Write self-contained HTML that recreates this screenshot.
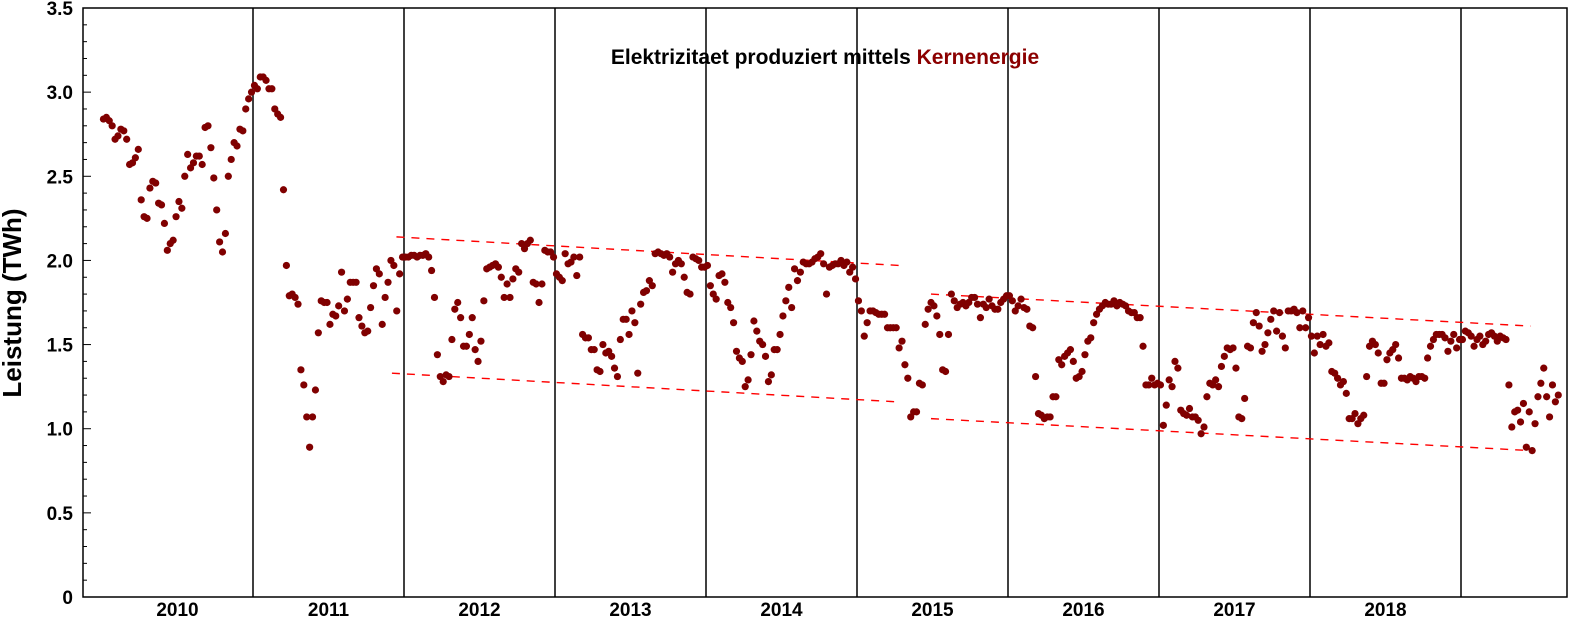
<!DOCTYPE html>
<html><head><meta charset="utf-8"><style>
body{margin:0;background:#fff;}
svg{display:block;font-family:"Liberation Sans",sans-serif;}
</style></head><body>
<svg id="chart" width="1574" height="622" viewBox="0 0 1574 622" xmlns="http://www.w3.org/2000/svg">
<rect x="0" y="0" width="1574" height="622" fill="#fff"/>
<g id="grid"></g><g id="trend"></g><g id="dots"></g><g id="axes"></g>
<text x="825" y="64" text-anchor="middle" font-size="21" font-weight="bold" fill="#000">Elektrizitaet produziert mittels <tspan fill="#8b0000">Kernenergie</tspan></text>
<text transform="translate(21,303) rotate(-90)" text-anchor="middle" font-size="26" font-weight="bold">Leistung (TWh)</text>
</svg>
<script>
const years=[2010,2011,2012,2013,2014,2015,2016,2017,2018,2019];
const yTicks=[0,0.5,1.0,1.5,2.0,2.5,3.0,3.5];
const yTickLabels=["0","0.5","1.0","1.5","2.0","2.5","3.0","3.5"];
const v2010=[2.84,2.85,2.83,2.80,2.72,2.74,2.78,2.77,2.72,2.57,2.58,2.61,2.66,2.36,2.26,2.25,2.43,2.47,2.46,2.34,2.33,2.22,2.06,2.10,2.12,2.26,2.35,2.31,2.50,2.63,2.55,2.58,2.62,2.62,2.57,2.79,2.80,2.67,2.49,2.30,2.11,2.05,2.16,2.50,2.60,2.70,2.68,2.78,2.77,2.90,2.96,3.00];
const v2011=[3.04,3.02,3.09,3.09,3.07,3.02,3.02,2.90,2.87,2.85,2.42,1.97,1.79,1.80,1.78,1.74,1.35,1.26,1.07,0.89,1.07,1.23,1.57,1.76,1.75,1.75,1.62,1.68,1.67,1.73,1.93,1.70,1.77,1.87,1.87,1.87,1.66,1.61,1.57,1.58,1.72,1.85,1.95,1.92,1.62,1.78,1.87,2.00,1.97,1.70,1.92,2.02];
const v2012=[2.02,2.02,2.03,2.03,2.02,2.03,2.03,2.04,2.02,1.94,1.78,1.44,1.31,1.28,1.32,1.31,1.53,1.71,1.75,1.66,1.49,1.49,1.56,1.66,1.47,1.40,1.52,1.76,1.95,1.96,1.97,1.98,1.96,1.90,1.78,1.86,1.78,1.89,1.95,1.93,2.10,2.07,2.10,2.12,1.87,1.86,1.75,1.86,2.06,2.05,2.05,2.02];
const v2013=[1.92,1.90,1.88,2.04,1.98,1.99,2.02,1.91,2.02,1.56,1.54,1.54,1.47,1.47,1.35,1.34,1.50,1.45,1.46,1.43,1.36,1.31,1.53,1.65,1.65,1.56,1.70,1.63,1.33,1.74,1.81,1.82,1.88,1.85,2.04,2.05,2.04,2.03,2.04,2.02,1.93,1.98,2.00,1.98,1.90,1.81,1.80,2.02,2.01,2.00,1.96,1.96];
const v2014=[1.97,1.85,1.80,1.77,1.91,1.92,1.87,1.75,1.72,1.63,1.46,1.42,1.40,1.25,1.29,1.44,1.64,1.58,1.52,1.50,1.43,1.28,1.32,1.47,1.47,1.56,1.67,1.76,1.84,1.72,1.95,1.88,1.93,1.99,1.98,1.98,1.99,2.01,2.02,2.04,1.98,1.80,1.96,1.97,1.98,1.98,2.00,1.97,1.99,1.93,1.96,1.89];
const v2015=[1.76,1.70,1.55,1.63,1.70,1.70,1.69,1.68,1.68,1.68,1.60,1.60,1.60,1.60,1.48,1.52,1.38,1.30,1.07,1.10,1.10,1.27,1.26,1.62,1.71,1.75,1.73,1.67,1.56,1.35,1.34,1.56,1.80,1.76,1.72,1.74,1.75,1.73,1.75,1.78,1.78,1.74,1.66,1.74,1.72,1.77,1.73,1.71,1.71,1.75,1.77,1.79];
const v2016=[1.79,1.76,1.70,1.73,1.77,1.72,1.71,1.61,1.60,1.31,1.09,1.08,1.06,1.07,1.07,1.19,1.19,1.41,1.38,1.43,1.45,1.47,1.40,1.30,1.31,1.34,1.44,1.52,1.54,1.63,1.68,1.71,1.73,1.75,1.74,1.74,1.76,1.73,1.75,1.74,1.73,1.70,1.69,1.69,1.66,1.66,1.49,1.26,1.26,1.30,1.26,1.27];
const v2017=[1.26,1.02,1.14,1.29,1.25,1.40,1.36,1.11,1.09,1.08,1.12,1.07,1.07,1.05,0.97,1.01,1.19,1.27,1.26,1.29,1.25,1.37,1.43,1.48,1.47,1.48,1.36,1.07,1.06,1.18,1.49,1.48,1.63,1.69,1.61,1.46,1.50,1.57,1.65,1.70,1.58,1.69,1.55,1.48,1.70,1.70,1.71,1.69,1.60,1.70,1.60,1.66];
const v2018=[1.55,1.45,1.55,1.50,1.56,1.49,1.51,1.34,1.33,1.30,1.26,1.28,1.21,1.06,1.06,1.09,1.03,1.06,1.08,1.31,1.49,1.52,1.50,1.45,1.27,1.27,1.41,1.45,1.47,1.50,1.42,1.30,1.30,1.29,1.31,1.30,1.28,1.31,1.31,1.30,1.42,1.49,1.53,1.56,1.56,1.56,1.54,1.46,1.52,1.56,1.48,1.53];
const v2019=[1.53,1.58,1.57,1.55,1.49,1.53,1.55,1.50,1.52,1.56,1.57,1.55,1.52,1.55,1.54,1.53,1.26,1.01,1.10,1.11,1.04,1.15,0.89,1.10,0.87,1.03,1.19,1.27,1.36,1.19,1.07,1.26,1.16,1.20];
const series=[v2010,v2011,v2012,v2013,v2014,v2015,v2016,v2017,v2018,v2019];
// trend lines: [startYearFraction, startValue, endYearFraction, endValue]
const trendUpper1=[2011.95,2.14,2015.28,1.97];
const trendLower1=[2011.92,1.33,2015.26,1.16];
const trendUpper2=[2015.49,1.80,2019.46,1.61];
const trendLower2=[2015.49,1.06,2019.46,0.87];

const NS="http://www.w3.org/2000/svg";
const L=83,R=1567,T=8,B=597,yMax=3.5;
const X0=102,YW=151.0;
function xs(t){return X0+(t-2010)*YW;}
function ys(v){return B-(v/yMax)*(B-T);}
function mk(tag,attrs,parent){const e=document.createElementNS(NS,tag);for(const k in attrs)e.setAttribute(k,attrs[k]);parent.appendChild(e);return e;}
const grid=document.getElementById('grid'),dots=document.getElementById('dots'),axes=document.getElementById('axes'),trend=document.getElementById('trend');
// year separators and labels
years.forEach((y,i)=>{
  if(i>0){const l=mk('line',{x1:xs(y),x2:xs(y),y1:T,y2:B,stroke:'#000','stroke-width':1.5},grid);
  
  }
  if(y<2019){const t=mk('text',{x:xs(y+0.5),y:616,'text-anchor':'middle','font-size':19,'font-weight':'bold'},axes);t.textContent=y;
  
  }
});
// trend lines
[trendUpper1,trendLower1,trendUpper2,trendLower2].forEach((d,i)=>{
  const l=mk('line',{x1:xs(d[0]),y1:ys(d[1]),x2:xs(d[2]),y2:ys(d[3]),stroke:'#ff0000','stroke-width':1.4,'stroke-dasharray':'8 7'},trend);
  
  
});
// dots
series.forEach((arr,yi)=>{
  arr.forEach((v,i)=>{
    const c=mk('circle',{cx:xs(years[yi]+(i+0.5)/52),cy:ys(v),r:3.6,fill:'#800000'},dots);
    
    
  });
});
// frame
const fr=mk('rect',{x:L,y:T,width:R-L,height:B-T,fill:'none',stroke:'#000','stroke-width':1.5},axes);


// y ticks
for(let k=0;k<=35;k++){const v=k/10;const maj=k%5===0;
  mk('line',{x1:L,x2:L+(maj?8:4),y1:ys(v),y2:ys(v),stroke:'#000','stroke-width':1},axes);}
yTicks.forEach((v,i)=>{const t=mk('text',{x:L-10,y:ys(v)+7,'text-anchor':'end','font-size':19,'font-weight':'bold'},axes);t.textContent=yTickLabels[i];
  
  });
</script>
</body></html>
